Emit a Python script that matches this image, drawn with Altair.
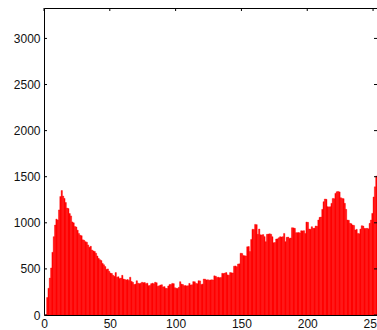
import altair as alt
import pandas as pd

# Histogram counts for intensity levels 0..255
counts = [
    0, 0, 190, 290, 400, 510, 680, 850, 975, 1040,
    1030, 1140, 1285, 1350, 1290, 1265, 1220, 1160, 1155, 1100,
    1075, 1010, 1000, 960, 955, 920, 885, 865, 860, 815,
    810, 795, 790, 760, 735, 745, 705, 695, 690, 670,
    640, 615, 600, 590, 560, 545, 525, 495, 500, 475,
    455, 450, 430, 420, 460, 410, 415, 395, 400, 430,
    390, 385, 380, 385, 375, 410, 365, 355, 330, 335,
    372, 345, 340, 345, 355, 350, 352, 340, 345, 318,
    320, 340, 345, 338, 355, 350, 312, 316, 325, 328,
    305, 308, 290, 288, 315, 332, 330, 343, 340, 296,
    290, 288, 300, 362, 335, 330, 318, 320, 315, 318,
    343, 325, 328, 362, 360, 343, 340, 372, 370, 332,
    335, 390, 388, 380, 382, 378, 380, 382, 380, 425,
    420, 408, 410, 405, 408, 452, 450, 455, 460, 435,
    432, 460, 458, 455, 530, 532, 524, 553, 555, 670,
    668, 645, 643, 640, 740, 742, 688, 820, 930, 928,
    983, 980, 875, 932, 870, 868, 872, 850, 795, 875,
    878, 880, 876, 849, 784, 786, 824, 826, 838, 849,
    846, 850, 885, 795, 842, 845, 831, 835, 947, 945,
    940, 893, 893, 895, 890, 914, 912, 915, 885, 1008,
    1005, 932, 930, 958, 940, 942, 965, 962, 1030, 1059,
    1062, 1146, 1229, 1258, 1255, 1175, 1172, 1175, 1211, 1265,
    1262, 1319, 1337, 1340, 1335, 1272, 1265, 1262, 1211, 1146,
    1030, 1028, 994, 990, 976, 972, 922, 929, 885, 882,
    932, 969, 965, 940, 938, 940, 935, 994, 1030, 1102,
    1280, 1390, 1507, 1500, 1450, 1400,
]
bins = list(range(256))
x_ticks = [0, 50, 100, 150, 200, 250]
y_ticks = [0, 500, 1000, 1500, 2000, 2500, 3000]

W, H = 333, 307
XDOM = [0, 253]
YDOM = [0, 3330]

df = pd.DataFrame({"bin": bins, "count": counts})
df["bin_end"] = df["bin"] + 1
xt = pd.DataFrame({"v": x_ticks})
yt = pd.DataFrame({"v": y_ticks})

xscale = alt.Scale(domain=XDOM, nice=False, zero=False)
yscale = alt.Scale(domain=YDOM, nice=False)

bars = alt.Chart(df).mark_rect(fill="#ff0000", stroke="#ff0000", strokeWidth=0.4,
                               opacity=1, clip=True).encode(
    x=alt.X("bin:Q", scale=xscale, title=None,
            axis=alt.Axis(values=x_ticks, ticks=False, domain=False, grid=False,
                          labelFlush=False, labelPadding=3, labelFontSize=12,
                          format="d",
                          labelFont="Liberation Sans", labelColor="#111")),
    x2="bin_end:Q",
    y=alt.Y("count:Q", scale=yscale, title=None,
            axis=alt.Axis(values=y_ticks, ticks=False, domain=False, grid=False,
                          labelPadding=4, labelFontSize=12, labelFlush=False,
                          format="d",
                          labelFont="Liberation Sans", labelColor="#111")),
    y2=alt.datum(0),
)

left_ticks = alt.Chart(yt).mark_rule(color="black", strokeWidth=1).encode(
    y=alt.Y("v:Q", scale=yscale), x=alt.value(0), x2=alt.value(3)
)
right_ticks = alt.Chart(yt).mark_rule(color="black", strokeWidth=1).encode(
    y=alt.Y("v:Q", scale=yscale), x=alt.value(W - 3), x2=alt.value(W)
)
top_ticks = alt.Chart(xt).mark_rule(color="black", strokeWidth=1).encode(
    x=alt.X("v:Q", scale=xscale), y=alt.value(0), y2=alt.value(3)
)

chart = alt.layer(bars, left_ticks, right_ticks, top_ticks).properties(
    width=W, height=H,
    background="white",
    autosize=alt.AutoSizeParams(type="none"),
    padding={"left": 44, "top": 8, "right": 0, "bottom": 15},
).configure_view(stroke="black", strokeWidth=1)

chart.save("out.html", embed_options={"renderer": "svg", "actions": False})
